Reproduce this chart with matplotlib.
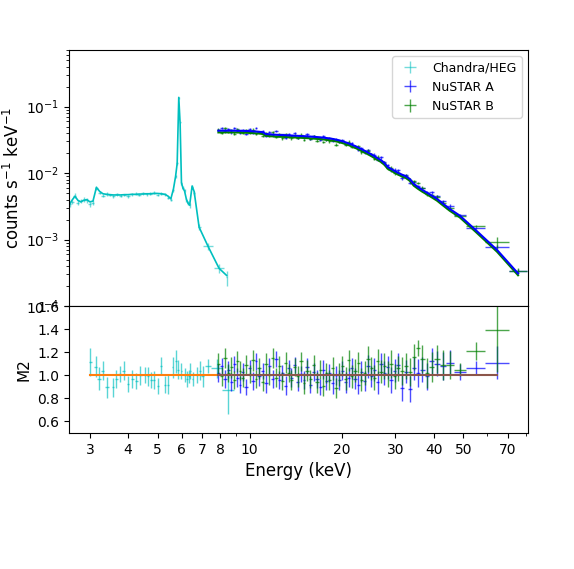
import numpy as np
import matplotlib
matplotlib.use("Agg")
import matplotlib.pyplot as plt
from matplotlib.ticker import NullFormatter, FixedLocator

# ---- Chandra/HEG spectrum (keV, counts/s/keV) ----
heg_e = [2.58, 2.63, 2.68, 2.74, 2.80, 2.86, 2.93, 3.00,
         3.07, 3.15, 3.23, 3.31, 3.40, 3.49, 3.58, 3.68,
         3.78, 3.89, 4.00, 4.11, 4.23, 4.35, 4.47, 4.60,
         4.73, 4.86, 5.00, 5.14, 5.28, 5.41, 5.52, 5.63,
         5.72, 5.79, 5.86, 5.92, 5.98, 6.05, 6.12, 6.21,
         6.29, 6.36, 6.48, 6.58, 6.83, 7.31, 7.94, 8.40]
heg_flux = [3.4e-3, 3.7e-3, 4.6e-3, 3.6e-3, 3.8e-3, 4.0e-3, 3.9e-3, 3.4e-3,
            3.6e-3, 6.0e-3, 5.1e-3, 4.6e-3, 4.9e-3, 4.7e-3, 4.5e-3, 4.8e-3,
            4.6e-3, 4.7e-3, 4.5e-3, 4.8e-3, 4.9e-3, 4.7e-3, 5.0e-3, 4.8e-3,
            4.9e-3, 5.1e-3, 4.7e-3, 4.9e-3, 4.8e-3, 4.3e-3, 4.0e-3, 5.5e-3,
            9.0e-3, 1.4e-2, 0.135, 5.8e-2, 7.0e-3, 6.0e-3, 5.5e-3, 4.0e-3,
            3.6e-3, 3.3e-3, 6.2e-3, 5.0e-3, 1.55e-3, 7.9e-4, 3.7e-4, 2.7e-4]
heg_model = [3.5e-3, 4.0e-3, 4.5e-3, 3.9e-3, 3.7e-3, 3.9e-3, 4.0e-3, 3.7e-3,
             3.8e-3, 6.1e-3, 5.3e-3, 4.9e-3, 4.8e-3, 4.75e-3, 4.7e-3, 4.7e-3,
             4.7e-3, 4.75e-3, 4.75e-3, 4.8e-3, 4.8e-3, 4.85e-3, 4.85e-3, 4.9e-3,
             4.9e-3, 4.95e-3, 4.95e-3, 4.9e-3, 4.8e-3, 4.5e-3, 4.1e-3, 5.8e-3,
             8.9e-3, 1.4e-2, 0.138, 5.6e-2, 7.2e-3, 5.9e-3, 5.4e-3, 4.0e-3,
             3.5e-3, 3.3e-3, 6.4e-3, 5.3e-3, 1.54e-3, 7.9e-4, 3.7e-4, 2.9e-4]
heg_relerr = [0.08, 0.08, 0.09, 0.08, 0.08, 0.09, 0.08, 0.09,
              0.08, 0.07, 0.06, 0.06, 0.06, 0.05, 0.05, 0.05,
              0.05, 0.05, 0.05, 0.05, 0.05, 0.05, 0.05, 0.05,
              0.05, 0.05, 0.05, 0.05, 0.05, 0.06, 0.06, 0.06,
              0.05, 0.04, 0.03, 0.03, 0.05, 0.05, 0.06, 0.07,
              0.07, 0.08, 0.06, 0.06, 0.10, 0.12, 0.15, 0.25]
heg_xerr = [0.025, 0.025, 0.03, 0.03, 0.03, 0.03, 0.035, 0.035,
            0.035, 0.035, 0.04, 0.04, 0.04, 0.045, 0.045, 0.045,
            0.05, 0.05, 0.05, 0.05, 0.06, 0.06, 0.06, 0.06,
            0.06, 0.06, 0.06, 0.06, 0.06, 0.05, 0.05, 0.04,
            0.03, 0.03, 0.02, 0.02, 0.03, 0.03, 0.04, 0.04,
            0.04, 0.04, 0.04, 0.05, 0.08, 0.25, 0.30, 0.05]

# Chandra ratio (data/model)
heg_res_e = [3.01, 3.13, 3.21, 3.30, 3.41, 3.57,
             3.66, 3.76, 3.87, 4.00, 4.13, 4.26,
             4.39, 4.54, 4.65, 4.77, 4.86, 5.01,
             5.14, 5.27, 5.41, 5.59, 5.73, 5.83,
             5.98, 6.13, 6.24, 6.34, 6.40, 6.50,
             6.70, 6.87, 7.01, 7.31, 7.79, 8.50]
heg_ratio = [1.117, 1.074, 0.972, 1.04, 0.895, 0.895,
             0.97, 1.01, 1.04, 0.923, 0.97, 0.95,
             1.0, 1.0, 0.99, 0.96, 0.96, 0.91,
             1.08, 0.92, 0.92, 1.07, 1.12, 1.05,
             1.04, 1.0, 0.97, 0.99, 1.04, 0.97,
             1.0, 1.04, 0.99, 1.08, 1.06, 0.876]
heg_res_err = [0.12, 0.09, 0.10, 0.08, 0.09, 0.08,
               0.08, 0.07, 0.08, 0.07, 0.08, 0.07,
               0.08, 0.07, 0.08, 0.07, 0.08, 0.07,
               0.08, 0.07, 0.08, 0.09, 0.10, 0.08,
               0.07, 0.06, 0.07, 0.06, 0.07, 0.06,
               0.07, 0.08, 0.09, 0.06, 0.08, 0.21]
heg_res_xerr = [0.04, 0.04, 0.04, 0.04, 0.06, 0.04,
                0.04, 0.04, 0.04, 0.04, 0.04, 0.04,
                0.04, 0.04, 0.04, 0.04, 0.04, 0.04,
                0.04, 0.04, 0.04, 0.04, 0.04, 0.04,
                0.04, 0.04, 0.04, 0.04, 0.04, 0.04,
                0.05, 0.05, 0.06, 0.15, 0.30, 0.40]

# ---- NuSTAR (FPMA / FPMB), common binning ----
nu_edges = [7.8, 8.0, 8.2, 8.4, 8.6, 8.8, 9.0, 9.2, 9.4, 9.6,
            9.9, 10.1, 10.4, 10.6, 10.9, 11.15, 11.45, 11.75, 12.05, 12.35,
            12.65, 12.95, 13.25, 13.55, 13.85, 14.2, 14.5, 14.9, 15.2, 15.6,
            16.0, 16.4, 16.8, 17.2, 17.6, 18.0, 18.5, 18.9, 19.4, 19.85,
            20.35, 20.85, 21.35, 21.85, 22.4, 22.9, 23.5, 24.1, 24.7, 25.3,
            25.9, 26.55, 27.25, 27.95, 28.65, 29.4, 30.2, 31.05, 31.95, 32.9,
            33.9, 34.95, 36.1, 37.35, 38.7, 40.2, 41.9, 43.8, 46.5, 51.0,
            59.0, 70.5, 81.0]
nuA_model = [0.0436, 0.0436, 0.0437, 0.0437, 0.0436, 0.0436, 0.0435, 0.0434,
             0.0433, 0.0431, 0.0429, 0.0426, 0.0423, 0.0419, 0.0413, 0.0388,
             0.0384, 0.0381, 0.0378, 0.0376, 0.0374, 0.0372, 0.0370, 0.0368,
             0.0366, 0.0364, 0.0362, 0.0360, 0.0358, 0.0355, 0.0352, 0.0349,
             0.0346, 0.0342, 0.0338, 0.0333, 0.0327, 0.0320, 0.0312, 0.0302,
             0.0291, 0.0280, 0.0268, 0.0256, 0.0243, 0.0230, 0.0217, 0.0204,
             0.0192, 0.0180, 0.0168, 0.0157, 0.0142, 0.0124, 0.0116, 0.0108,
             0.0101, 0.0095, 0.0090, 0.0082, 0.0069, 0.0062, 0.0056, 0.0051,
             0.0046, 0.0041, 0.0035, 0.0029, 0.0023, 0.00140, 0.00070, 0.00031]
cross_norm_B = 0.94
nuA_ratio = [1.02, 1.08, 0.97, 1.05, 0.94, 1.10, 0.98, 0.92,
             1.03, 0.90, 1.06, 0.95, 1.12, 0.99, 1.04, 0.93,
             1.08, 0.97, 1.14, 0.96, 1.02, 0.91, 1.06, 0.98,
             1.09, 0.94, 1.01, 0.96, 1.07, 0.92, 1.03, 0.97,
             0.90, 1.05, 0.95, 1.02, 0.93, 1.00, 0.96, 1.04,
             0.94, 0.98, 1.06, 0.97, 0.92, 1.03, 0.95, 1.08,
             0.99, 1.05, 0.94, 1.10, 1.02, 1.07, 0.96, 1.04,
             1.09, 0.89, 1.03, 0.88, 1.06, 1.02, 1.05, 0.99,
             1.12, 1.10, 1.08, 1.11, 1.03, 1.06, 1.11, 1.08]
nuB_ratio = [1.10, 0.99, 1.15, 1.02, 1.07, 0.96, 1.12, 1.04,
             0.98, 1.09, 1.01, 1.13, 0.97, 1.06, 0.94, 1.10,
             1.00, 1.15, 0.98, 1.08, 0.95, 1.11, 1.02, 0.96,
             1.07, 0.99, 1.12, 0.93, 1.04, 0.97, 1.09, 0.94,
             1.05, 0.91, 1.02, 0.96, 1.06, 0.89, 1.01, 1.08,
             0.97, 1.13, 0.99, 1.04, 1.11, 0.96, 1.02, 1.14,
             1.06, 0.98, 1.12, 1.03, 1.08, 1.01, 1.10, 0.99,
             1.06, 1.04, 1.08, 1.03, 1.16, 1.24, 1.14, 1.02,
             1.07, 1.14, 1.09, 1.09, 1.05, 1.21, 1.39, 1.15]
nuA_err = [0.08, 0.07, 0.08, 0.07, 0.08, 0.07, 0.08, 0.07,
           0.08, 0.07, 0.07, 0.08, 0.07, 0.08, 0.07, 0.08,
           0.07, 0.08, 0.07, 0.08, 0.07, 0.08, 0.07, 0.08,
           0.07, 0.08, 0.07, 0.08, 0.08, 0.07, 0.08, 0.08,
           0.07, 0.08, 0.08, 0.08, 0.09, 0.08, 0.09, 0.08,
           0.09, 0.08, 0.09, 0.09, 0.08, 0.09, 0.09, 0.10,
           0.09, 0.10, 0.10, 0.09, 0.10, 0.10, 0.11, 0.10,
           0.10, 0.11, 0.10, 0.11, 0.10, 0.12, 0.11, 0.12,
           0.12, 0.11, 0.12, 0.11, 0.07, 0.06, 0.14, 0.15]
nuB_err = [0.09, 0.08, 0.09, 0.08, 0.09, 0.08, 0.09, 0.08,
           0.08, 0.09, 0.08, 0.09, 0.08, 0.09, 0.08, 0.09,
           0.08, 0.09, 0.08, 0.09, 0.08, 0.09, 0.08, 0.09,
           0.08, 0.09, 0.08, 0.09, 0.09, 0.08, 0.09, 0.09,
           0.08, 0.09, 0.09, 0.09, 0.10, 0.09, 0.10, 0.09,
           0.10, 0.09, 0.10, 0.10, 0.09, 0.10, 0.10, 0.11,
           0.10, 0.11, 0.11, 0.10, 0.11, 0.11, 0.12, 0.11,
           0.11, 0.12, 0.11, 0.12, 0.11, 0.07, 0.12, 0.13,
           0.13, 0.12, 0.13, 0.12, 0.06, 0.08, 0.36, 0.20]

xtick_vals = [3, 4, 5, 6, 7, 8, 10, 20, 30, 40, 50, 70]

# ---- derived arrays ----
edges = np.array(nu_edges)
nu_e = np.sqrt(edges[:-1] * edges[1:])
nu_xerr = [nu_e - edges[:-1], edges[1:] - nu_e]
modA = np.array(nuA_model)
modB = modA * cross_norm_B
dataA = modA * np.array(nuA_ratio)
dataB = modB * np.array(nuB_ratio)
heg_f = np.array(heg_flux)

fig = plt.figure(figsize=(5.74, 5.69), dpi=100)
ax1 = fig.add_axes([0.120, 0.462, 0.800, 0.450])
ax2 = fig.add_axes([0.120, 0.239, 0.800, 0.223], sharex=ax1)

# top panel
h_heg = ax1.errorbar(heg_e, heg_f, xerr=heg_xerr, yerr=heg_f * np.array(heg_relerr),
                     fmt='none', ecolor='c', alpha=0.55, elinewidth=1, label='Chandra/HEG')
ax1.plot(heg_e, heg_model, color='c', lw=1.2)
h_a = ax1.errorbar(nu_e, dataA, xerr=nu_xerr, yerr=dataA * np.array(nuA_err) * 0.5,
                   fmt='none', ecolor='b', alpha=0.7, elinewidth=1, label='NuSTAR A')
h_b = ax1.errorbar(nu_e, dataB, xerr=nu_xerr, yerr=dataB * np.array(nuB_err) * 0.5,
                   fmt='none', ecolor='g', alpha=0.7, elinewidth=1, label='NuSTAR B')
ax1.plot(nu_e, modB, color='g', lw=1.5)
ax1.plot(nu_e, modA, color='b', lw=1.5)
ax1.set_xscale('log')
ax1.set_yscale('log')
ax1.set_ylim(1e-4, 0.71)
ax1.set_ylabel(r'counts s$^{-1}$ keV$^{-1}$', fontsize=12, labelpad=2)
ax1.legend(handles=[h_heg, h_a, h_b], loc='upper right', fontsize=9)
plt.setp(ax1.get_xticklabels(), visible=False)

# bottom panel (ratio)
ax2.errorbar(heg_res_e, heg_ratio, xerr=heg_res_xerr, yerr=heg_res_err,
             fmt='none', ecolor='c', alpha=0.65, elinewidth=1)
ax2.errorbar(nu_e[:-1], nuA_ratio[:-1], xerr=[nu_xerr[0][:-1], nu_xerr[1][:-1]],
             yerr=nuA_err[:-1], fmt='none', ecolor='b', alpha=0.7, elinewidth=1)
ax2.errorbar(nu_e[:-1], nuB_ratio[:-1], xerr=[nu_xerr[0][:-1], nu_xerr[1][:-1]],
             yerr=nuB_err[:-1], fmt='none', ecolor='g', alpha=0.7, elinewidth=1)
ax2.plot(heg_res_e, np.ones(len(heg_res_e)), color='C1', lw=1.5)
ax2.plot(nu_e[:-1], np.ones(len(nu_e) - 1), color='C5', lw=1.5)
ax2.set_ylim(0.5, 1.6)
ax2.set_yticks([0.6, 0.8, 1.0, 1.2, 1.4, 1.6])
ax2.set_ylabel('M2', fontsize=11)
ax2.set_xlabel('Energy (keV)', fontsize=12)
ax2.set_xlim(2.56, 81.5)
ax2.xaxis.set_major_locator(FixedLocator(xtick_vals))
ax2.xaxis.set_minor_locator(FixedLocator([9, 60, 80]))
ax2.set_xticklabels([str(v) for v in xtick_vals])
ax2.xaxis.set_minor_formatter(NullFormatter())

fig.savefig('out.png', dpi=100)
